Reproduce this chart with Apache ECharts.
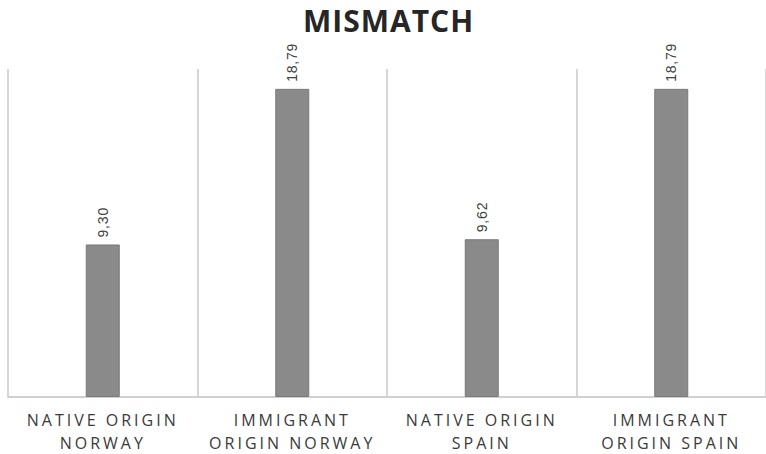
<!DOCTYPE html>
<html>
<head>
<meta charset="utf-8">
<script src="https://cdn.jsdelivr.net/npm/echarts@6/dist/echarts.min.js"></script>
<style>
  html, body { margin: 0; padding: 0; background: #fff; }
  #chart { width: 766px; height: 454px; }
  #chart text[style*="16px"] { letter-spacing: 3px; }
  #chart text[style*="14px"] { letter-spacing: 0.8px; }
  #chart text[style*="30px"] { letter-spacing: 1px; }
</style>
</head>
<body>
<div id="chart"></div>
<script>
const chartTitle = 'MISMATCH';
const categories = ['NATIVE ORIGIN\nNORWAY', 'IMMIGRANT\nORIGIN NORWAY', 'NATIVE ORIGIN\nSPAIN', 'IMMIGRANT\nORIGIN SPAIN'];
const mismatchValues = [9.30, 18.79, 9.62, 18.79];

const chart = echarts.init(document.getElementById('chart'), null, { renderer: 'svg' });
chart.setOption({
  animation: false,
  backgroundColor: '#ffffff',
  title: {
    text: chartTitle,
    left: 303,
    top: 0,
    padding: 0,
    textStyle: { fontFamily: 'Open Sans', fontWeight: 'bold', fontSize: 30, color: '#262626', lineHeight: 41 }
  },
  grid: { left: 8, top: 69, width: 765, bottom: 56, containLabel: false },
  xAxis: {
    type: 'category',
    data: categories,
    boundaryGap: true,
    axisLine: { show: true, lineStyle: { color: '#d0d0d0', width: 2 } },
    axisTick: { show: false },
    splitLine: { show: true, lineStyle: { color: '#d6d6d6', width: 2 } },
    axisLabel: {
      interval: 0,
      margin: 11,
      fontFamily: 'Open Sans',
      fontSize: 16,
      lineHeight: 23,
      color: '#3a3a3a'
    }
  },
  yAxis: {
    type: 'value',
    min: 0,
    max: 20,
    show: false,
    splitLine: { show: false }
  },
  series: [{
    type: 'bar',
    data: mismatchValues,
    barWidth: 34,
    itemStyle: { color: '#8a8a8a', borderColor: '#7a7a7a', borderWidth: 1 },
    label: {
      show: true,
      position: 'top',
      rotate: 90,
      align: 'left',
      verticalAlign: 'middle',
      distance: 7,
      fontFamily: 'Liberation Sans',
      fontSize: 14,
      color: '#404040',
      formatter: p => p.value.toFixed(2).replace('.', ',')
    }
  }]
});
</script>
</body>
</html>
